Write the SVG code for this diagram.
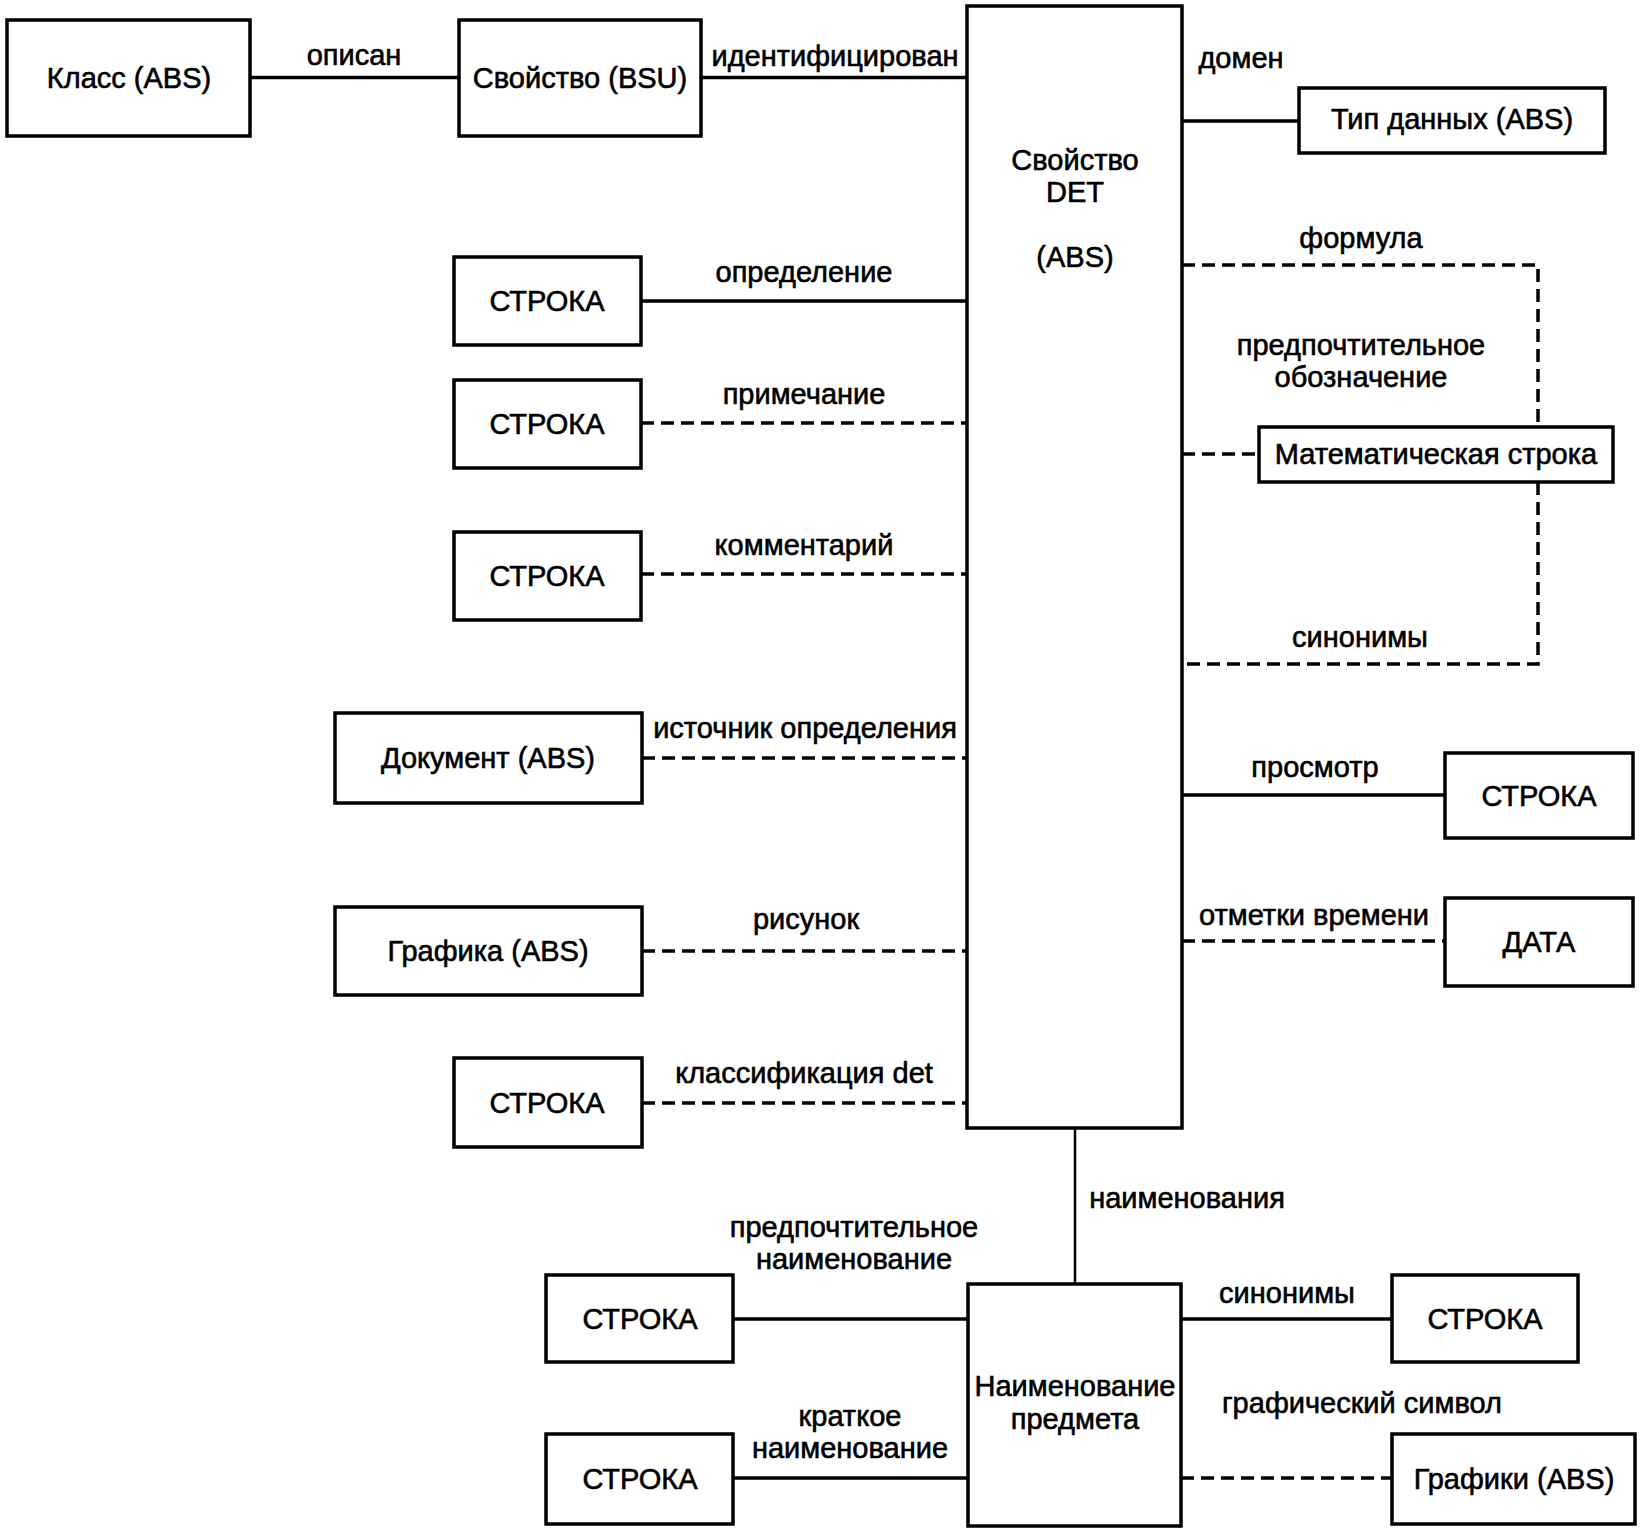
<svg xmlns="http://www.w3.org/2000/svg" width="1642" height="1531" viewBox="0 0 1642 1531">
<style>
.box{fill:#fff;stroke:#000;stroke-width:3.5}
.ln{fill:none;stroke:#000;stroke-width:3.5}
.dash{fill:none;stroke:#000;stroke-width:3.5;stroke-dasharray:13 7}
text{font-family:"Liberation Sans",Arial,sans-serif;font-size:29px;fill:#000;stroke:#000;stroke-width:0.6}
.c{text-anchor:middle}
</style>
<rect width="1642" height="1531" fill="#fff"/>
<g id="connectors">
<line class="ln" x1="250" y1="77.5" x2="459" y2="77.5"/>
<line class="ln" x1="701" y1="77.5" x2="967" y2="77.5"/>
<line class="ln" x1="1182" y1="121" x2="1299" y2="121"/>
<line class="ln" x1="641" y1="301" x2="967" y2="301"/>
<line class="dash" x1="641" y1="423" x2="967" y2="423"/>
<line class="dash" x1="641" y1="574" x2="967" y2="574"/>
<line class="dash" x1="642" y1="758" x2="967" y2="758"/>
<line class="dash" x1="642" y1="951" x2="967" y2="951"/>
<line class="dash" x1="642" y1="1103" x2="967" y2="1103"/>
<path class="dash" d="M1182 265 H1538 V427"/>
<path class="dash" d="M1538 482 V664 H1182"/>
<line class="dash" x1="1182" y1="454" x2="1259" y2="454"/>
<line class="ln" x1="1182" y1="795" x2="1445" y2="795"/>
<line class="dash" x1="1182" y1="941" x2="1445" y2="941"/>
<line class="ln" style="stroke-width:2.5" x1="1075" y1="1128" x2="1075" y2="1284"/>
<line class="ln" x1="733" y1="1319" x2="968" y2="1319"/>
<line class="ln" x1="733" y1="1478" x2="968" y2="1478"/>
<line class="ln" x1="1181" y1="1319" x2="1392" y2="1319"/>
<line class="dash" x1="1181" y1="1478" x2="1392" y2="1478"/>
<text class="c" x="354" y="65">описан</text>
<text class="c" x="835" y="66">идентифицирован</text>
<text class="c" x="1241" y="68">домен</text>
<text class="c" x="1361" y="248">формула</text>
<text class="c" x="1361" y="355">предпочтительное</text>
<text class="c" x="1361" y="387">обозначение</text>
<text class="c" x="1360" y="647">синонимы</text>
<text class="c" x="1315" y="777">просмотр</text>
<text class="c" x="1314" y="925">отметки времени</text>
<text class="c" x="804" y="282">определение</text>
<text class="c" x="804" y="404">примечание</text>
<text class="c" x="804" y="555">комментарий</text>
<text class="c" x="805" y="738">источник определения</text>
<text class="c" x="806" y="929">рисунок</text>
<text class="c" x="804" y="1083">классификация det</text>
<text class="c" x="1187" y="1208">наименования</text>
<text class="c" x="854" y="1237">предпочтительное</text>
<text class="c" x="854" y="1269">наименование</text>
<text class="c" x="850" y="1426">краткое</text>
<text class="c" x="850" y="1458">наименование</text>
<text class="c" x="1287" y="1303">синонимы</text>
<text class="c" x="1362" y="1413">графический символ</text>
</g>
<g id="klass"><rect class="box" x="7" y="20" width="243" height="116"/><text class="c" x="129" y="88">Класс (ABS)</text></g>
<g id="svoistvo-bsu"><rect class="box" x="459" y="20" width="242" height="116"/><text class="c" x="580" y="88">Свойство (BSU)</text></g>
<g id="svoistvo-det"><rect class="box" x="967" y="6" width="215" height="1122"/><text class="c" x="1075" y="170">Свойство</text><text class="c" x="1075" y="202">DET</text><text class="c" x="1075" y="267">(ABS)</text></g>
<g id="tip-dannyh"><rect class="box" x="1299" y="88" width="306" height="65"/><text class="c" x="1452" y="129">Тип данных (ABS)</text></g>
<g id="stroka-def"><rect class="box" x="454" y="257" width="187" height="88"/><text class="c" x="547" y="311">СТРОКА</text></g>
<g id="stroka-prim"><rect class="box" x="454" y="380" width="187" height="88"/><text class="c" x="547" y="434">СТРОКА</text></g>
<g id="stroka-komm"><rect class="box" x="454" y="532" width="187" height="88"/><text class="c" x="547" y="586">СТРОКА</text></g>
<g id="dokument"><rect class="box" x="335" y="713" width="307" height="90"/><text class="c" x="488" y="768">Документ (ABS)</text></g>
<g id="grafika"><rect class="box" x="335" y="907" width="307" height="88"/><text class="c" x="488" y="961">Графика (ABS)</text></g>
<g id="stroka-klass"><rect class="box" x="454" y="1058" width="188" height="89"/><text class="c" x="547" y="1113">СТРОКА</text></g>
<g id="mat-stroka"><rect class="box" x="1259" y="427" width="354" height="55"/><text class="c" x="1436" y="464">Математическая строка</text></g>
<g id="stroka-prosmotr"><rect class="box" x="1445" y="753" width="188" height="85"/><text class="c" x="1539" y="806">СТРОКА</text></g>
<g id="data"><rect class="box" x="1445" y="898" width="188" height="88"/><text class="c" x="1539" y="952">ДАТА</text></g>
<g id="naimenovanie"><rect class="box" x="968" y="1284" width="213" height="242"/><text class="c" x="1075" y="1396">Наименование</text><text class="c" x="1075" y="1429">предмета</text></g>
<g id="stroka-pref"><rect class="box" x="546" y="1275" width="187" height="87"/><text class="c" x="640" y="1329">СТРОКА</text></g>
<g id="stroka-short"><rect class="box" x="546" y="1434" width="187" height="90"/><text class="c" x="640" y="1489">СТРОКА</text></g>
<g id="stroka-syn"><rect class="box" x="1392" y="1275" width="186" height="87"/><text class="c" x="1485" y="1329">СТРОКА</text></g>
<g id="grafiki"><rect class="box" x="1392" y="1434" width="243" height="90"/><text class="c" x="1514" y="1489">Графики (ABS)</text></g>
</svg>
